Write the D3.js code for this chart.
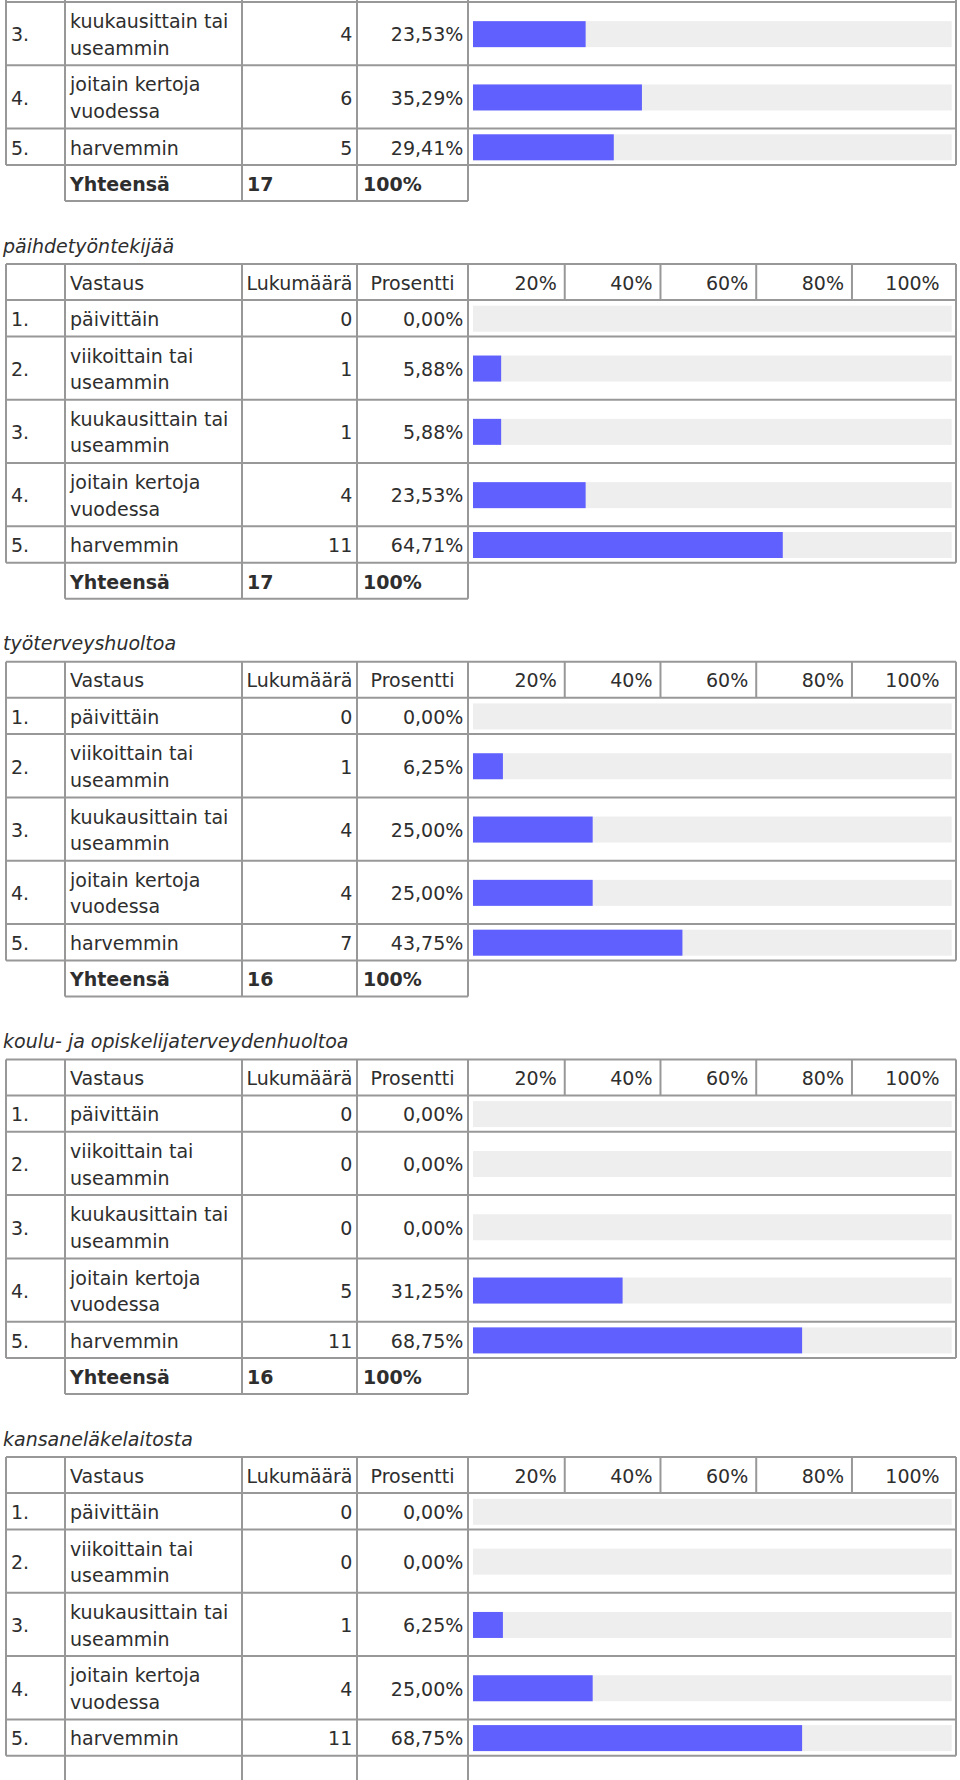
<!DOCTYPE html>
<html>
<head>
<meta charset="utf-8">
<script src="https://cdn.jsdelivr.net/npm/d3@7"></script>
<style>
  html, body { margin: 0; padding: 0; background: #fff; }
  svg { display: block; }
  text { font-family: "DejaVu Sans", Verdana, sans-serif; font-size: 19px; fill: #2e2e2e; }
</style>
</head>
<body>
<script>
// ---------- DATA ----------
const answerNumbers = ["1.", "2.", "3.", "4.", "5."];
const answerLabels = [
  ["päivittäin"],
  ["viikoittain tai", "useammin"],
  ["kuukausittain tai", "useammin"],
  ["joitain kertoja", "vuodessa"],
  ["harvemmin"]
];
const headerLabels = ["Vastaus", "Lukumäärä", "Prosentti"];
const tickValues = [20, 40, 60, 80, 100];
const tickLabels = ["20%", "40%", "60%", "80%", "100%"];
const totalLabel = "Yhteensä";

// section titles (first block is a continuation from above the page top)
const sectionTitles = [null, "päihdetyöntekijää", "työterveyshuoltoa", "koulu- ja opiskelijaterveydenhuoltoa", "kansaneläkelaitosta"];
// first visible answer index of each block
const firstRow = [2, 0, 0, 0, 0];
// counts per block (only visible rows)
const counts0 = [4, 6, 5];
const counts1 = [0, 1, 1, 4, 11];
const counts2 = [0, 1, 4, 4, 7];
const counts3 = [0, 0, 0, 5, 11];
const counts4 = [0, 0, 1, 4, 11];
// percentages per block
const percents0 = [23.53, 35.29, 29.41];
const percents1 = [0, 5.88, 5.88, 23.53, 64.71];
const percents2 = [0, 6.25, 25.00, 25.00, 43.75];
const percents3 = [0, 0, 0, 31.25, 68.75];
const percents4 = [0, 0, 6.25, 25.00, 68.75];
// totals (last block's total row is cut off at the page bottom)
const totals = [17, 17, 16, 16, null];

const countsAll = [counts0, counts1, counts2, counts3, counts4];
const percentsAll = [percents0, percents1, percents2, percents3, percents4];

// ---------- LAYOUT ----------
const W = 960, H = 1780;
const colX = [6, 65, 242, 357, 468, 956];
const headerH = 36;
const rowH1 = 36.4, rowH2 = 63.3;
const totalH = 36;
const sectionTop0 = 264;      // header top of second block
const sectionStep = 397.7;
const barH = 26;
const lineGap = 26.6;
const borderColor = "#989898";

const x = d3.scaleLinear().domain([0, 100]).range([473, 951.7]);
const fmtPct = v => d3.format(".2f")(v).replace(".", ",") + "%";

const svg = d3.select("body").append("svg").attr("width", W).attr("height", H);

function rowHeight(i) { return answerLabels[i].length > 1 ? rowH2 : rowH1; }

sectionTitles.forEach((title, s) => {
  const top = sectionTop0 + (s - 1) * sectionStep;
  const g = svg.append("g");
  const rowTops = [];
  let y = top + headerH;
  for (let i = 0; i < 5; i++) { rowTops.push(y); y += rowHeight(i); }
  const tableBottom = y;
  const totalBottom = tableBottom + totalH;
  const visStart = rowTops[firstRow[s]];
  const showHeader = firstRow[s] === 0;

  if (title) {
    g.append("text").attr("x", 3).attr("y", top - 11.5)
      .style("font-style", "italic").text(title);
  }

  const rows = d3.range(firstRow[s], 5).map((i, k) => ({
    i, count: countsAll[s][k], pct: percentsAll[s][k],
    top: rowTops[i], h: rowHeight(i)
  }));

  // tracks and bars
  g.selectAll("rect.track").data(rows).join("rect")
    .attr("class", "track")
    .attr("x", x(0)).attr("width", x(100) - x(0))
    .attr("y", d => d.top + d.h / 2 - barH / 2 + 0.5).attr("height", barH)
    .attr("fill", "#eeeeee");
  g.selectAll("rect.bar").data(rows.filter(d => d.pct > 0)).join("rect")
    .attr("class", "bar")
    .attr("x", x(0)).attr("width", d => x(d.pct) - x(0))
    .attr("y", d => d.top + d.h / 2 - barH / 2 + 0.5).attr("height", barH)
    .attr("fill", "#6060ff");

  // grid lines
  const hLines = [];
  if (showHeader) hLines.push(top, top + headerH);
  rows.forEach(d => hLines.push(d.top + d.h));
  if (!showHeader) hLines.push(visStart);
  g.selectAll("line.h").data(hLines).join("line")
    .attr("x1", colX[0]).attr("x2", colX[5])
    .attr("y1", d => d).attr("y2", d => d)
    .attr("stroke", borderColor).attr("stroke-width", 2);
  const vTop = showHeader ? top : visStart - 2;
  g.selectAll("line.v").data(colX).join("line")
    .attr("x1", d => d).attr("x2", d => d)
    .attr("y1", vTop).attr("y2", tableBottom)
    .attr("stroke", borderColor).attr("stroke-width", 2);
  // total row
  g.selectAll("line.tv").data(colX.slice(1, 5)).join("line")
    .attr("x1", d => d).attr("x2", d => d)
    .attr("y1", tableBottom).attr("y2", totalBottom)
    .attr("stroke", borderColor).attr("stroke-width", 2);
  g.append("line").attr("x1", colX[1]).attr("x2", colX[4])
    .attr("y1", totalBottom).attr("y2", totalBottom)
    .attr("stroke", borderColor).attr("stroke-width", 2);

  if (showHeader) {
    g.selectAll("line.hv").data(tickValues.slice(0, 4)).join("line")
      .attr("x1", d => x(d) - 4).attr("x2", d => x(d) - 4)
      .attr("y1", top).attr("y2", top + headerH)
      .attr("stroke", borderColor).attr("stroke-width", 2);
    const hy = top + headerH / 2 + 7.7;
    g.append("text").attr("x", colX[1] + 5).attr("y", hy).text(headerLabels[0]);
    g.append("text").attr("x", (colX[2] + colX[3]) / 2).attr("y", hy)
      .attr("text-anchor", "middle").text(headerLabels[1]);
    g.append("text").attr("x", (colX[3] + colX[4]) / 2).attr("y", hy)
      .attr("text-anchor", "middle").text(headerLabels[2]);
    g.selectAll("text.tick").data(tickValues).join("text")
      .attr("class", "tick")
      .attr("x", d => x(d) - 12).attr("y", hy)
      .attr("text-anchor", "end")
      .text((d, k) => tickLabels[k]);
  }

  // row texts
  rows.forEach(d => {
    const cy = d.top + d.h / 2 + 7.8;
    g.append("text").attr("x", colX[0] + 5).attr("y", cy).text(answerNumbers[d.i]);
    const lines = answerLabels[d.i];
    lines.forEach((ln, li) => {
      g.append("text").attr("x", colX[1] + 5)
        .attr("y", cy + (li - (lines.length - 1) / 2) * lineGap).text(ln);
    });
    g.append("text").attr("x", colX[3] - 4.7).attr("y", cy)
      .attr("text-anchor", "end").text(d.count);
    g.append("text").attr("x", colX[4] - 4.7).attr("y", cy)
      .attr("text-anchor", "end").text(fmtPct(d.pct));
  });

  // total row texts
  if (totals[s] !== null) {
    const ty = tableBottom + totalH / 2 + 7.8;
    g.append("text").attr("x", colX[1] + 5).attr("y", ty).style("font-weight", "bold").text(totalLabel);
    g.append("text").attr("x", colX[2] + 5).attr("y", ty).style("font-weight", "bold").text(totals[s]);
    g.append("text").attr("x", colX[3] + 6).attr("y", ty).style("font-weight", "bold").text("100%");
  }
});
</script>
</body>
</html>
